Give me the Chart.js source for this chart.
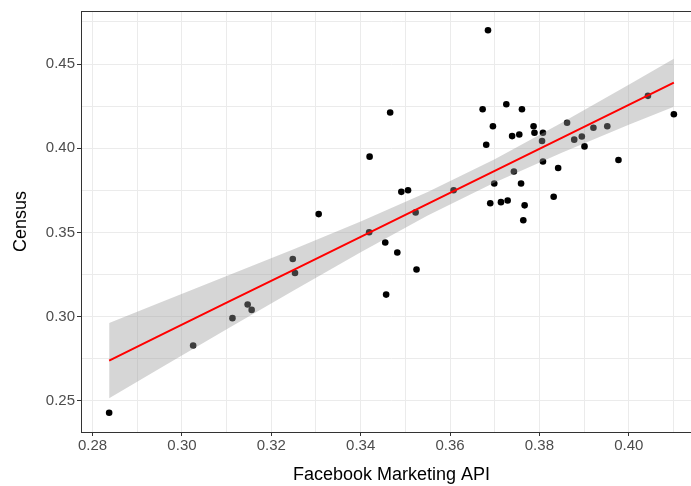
<!DOCTYPE html>
<html>
<head>
<meta charset="utf-8">
<script src="https://cdn.jsdelivr.net/npm/chart.js@4.4.1/dist/chart.umd.min.js"></script>
<style>
  html, body { margin: 0; padding: 0; background: #fff; overflow: hidden; }
</style>
</head>
<body>
<canvas id="grafico" width="706" height="486"></canvas>
<script>
// pontos: Facebook Marketing API (x) vs Census (y)
var fbX = [0.2837, 0.3025, 0.3113, 0.3147, 0.3156, 0.3248, 0.3253, 0.3306, 0.3419, 0.3420,
           0.3455, 0.3457, 0.3466, 0.3482, 0.3491, 0.3506, 0.3523, 0.3525, 0.3608, 0.3673,
           0.3681, 0.3685, 0.3690, 0.3696, 0.3699, 0.3714, 0.3726, 0.3729, 0.3739, 0.3743,
           0.3755, 0.3759, 0.3761, 0.3764, 0.3767, 0.3787, 0.3789, 0.3806, 0.3808, 0.3808,
           0.3832, 0.3842, 0.3862, 0.3878, 0.3895, 0.3901, 0.3921, 0.3952, 0.3977, 0.4043,
           0.4101];
var censusY = [0.2429, 0.2829, 0.2991, 0.3072, 0.3040, 0.3342, 0.3259, 0.3609, 0.3501, 0.3950,
               0.3440, 0.3131, 0.4212, 0.3381, 0.3741, 0.3751, 0.3619, 0.3280, 0.3751, 0.4232,
               0.4021, 0.4701, 0.3673, 0.4131, 0.3791, 0.3680, 0.4261, 0.3690, 0.4072, 0.3862,
               0.4082, 0.3791, 0.4232, 0.3572, 0.3661, 0.4131, 0.4092, 0.4043, 0.3921, 0.4092,
               0.3712, 0.3883, 0.4151, 0.4051, 0.4070, 0.4011, 0.4122, 0.4131, 0.3930, 0.4311,
               0.4202];

// reta ajustada e faixa de confianca
var fitX     = [0.2837, 0.295, 0.31, 0.325, 0.34, 0.355, 0.37, 0.385, 0.40, 0.4101];
var fitY     = [0.2739, 0.2887, 0.3083, 0.3278, 0.3474, 0.3670, 0.3866, 0.4062, 0.4258, 0.4390];
var bandLow  = [0.2516, 0.2692, 0.2925, 0.3156, 0.3383, 0.3600, 0.3797, 0.3973, 0.4139, 0.4247];
var bandHigh = [0.2963, 0.3082, 0.3241, 0.3400, 0.3565, 0.3740, 0.3935, 0.4151, 0.4377, 0.4532];

var xTicks = [0.28, 0.29, 0.30, 0.31, 0.32, 0.33, 0.34, 0.35, 0.36, 0.37, 0.38, 0.39, 0.40, 0.41];
var yTicks = [0.25, 0.275, 0.30, 0.325, 0.35, 0.375, 0.40, 0.425, 0.45, 0.475];

function pares(xs, ys) {
    return xs.map(function (x, i) { return {x: x, y: ys[i]}; });
}
function xMaior(v) { return Math.round(v * 100) % 2 === 0; }
function yMaior(v) { return Math.round(v * 1000) % 50 === 0; }

var bordaPainel = {
    id: 'bordaPainel',
    afterDraw: function (chart) {
        var a = chart.chartArea, ctx = chart.ctx;
        ctx.save();
        ctx.strokeStyle = '#333333';
        ctx.lineWidth = 1;
        ctx.strokeRect(Math.round(a.left) + 0.5, Math.round(a.top) + 0.5,
                       Math.round(a.right - a.left), Math.round(a.bottom - a.top));
        ctx.restore();
    }
};

var fonte = "'Liberation Sans', Arial, sans-serif";

const config = {
    type: 'scatter',
    data: {
        datasets: [
            {
                type: 'line',
                data: pares(fitX, fitY),
                borderColor: '#ff0000',
                borderWidth: 2,
                pointRadius: 0,
                fill: false
            },
            {
                type: 'line',
                data: pares(fitX, bandHigh),
                borderWidth: 0,
                borderColor: 'rgba(0,0,0,0)',
                pointRadius: 0,
                fill: false
            },
            {
                type: 'line',
                data: pares(fitX, bandLow),
                borderWidth: 0,
                borderColor: 'rgba(0,0,0,0)',
                backgroundColor: 'rgba(153,153,153,0.4)',
                pointRadius: 0,
                fill: '-1'
            },
            {
                data: pares(fbX, censusY),
                backgroundColor: '#000000',
                borderWidth: 0,
                pointRadius: 3.3,
                pointHoverRadius: 3.3
            }
        ]
    },
    options: {
        responsive: false,
        animation: false,
        devicePixelRatio: 1,
        layout: { padding: { left: 0, top: 9, right: 4, bottom: 0 } },
        plugins: { legend: { display: false }, tooltip: { enabled: false } },
        scales: {
            x: {
                type: 'linear',
                min: 0.2774,
                max: 0.4164,
                afterBuildTicks: function (s) { s.ticks = xTicks.map(function (v) { return {value: v}; }); },
                afterFit: function (s) { s.height = 54; },
                border: { display: false },
                grid: {
                    color: '#ebebeb',
                    lineWidth: 1,
                    tickLength: 4,
                    tickColor: function (c) { return c.tick && xMaior(c.tick.value) ? '#333333' : 'rgba(0,0,0,0)'; }
                },
                ticks: {
                    autoSkip: false,
                    maxRotation: 0,
                    padding: 1,
                    color: '#4d4d4d',
                    font: { family: fonte, size: 15 },
                    callback: function (v) { return xMaior(v) ? v.toFixed(2) : ''; }
                },
                title: {
                    display: true,
                    text: 'Facebook Marketing API',
                    color: '#000000',
                    font: { family: fonte, size: 18 },
                    padding: { top: 0, bottom: 0 }
                }
            },
            y: {
                type: 'linear',
                min: 0.2315,
                max: 0.4815,
                afterBuildTicks: function (s) { s.ticks = yTicks.map(function (v) { return {value: v}; }); },
                afterFit: function (s) { s.width = 81; },
                border: { display: false },
                grid: {
                    color: '#ebebeb',
                    lineWidth: 1,
                    tickLength: 4,
                    tickColor: function (c) { return c.tick && yMaior(c.tick.value) ? '#333333' : 'rgba(0,0,0,0)'; }
                },
                ticks: {
                    autoSkip: false,
                    padding: 2,
                    color: '#4d4d4d',
                    font: { family: fonte, size: 15 },
                    callback: function (v) { return yMaior(v) ? v.toFixed(2) : ''; }
                },
                title: {
                    display: true,
                    text: 'Census',
                    color: '#000000',
                    font: { family: fonte, size: 18 },
                    padding: 10
                }
            }
        }
    },
    plugins: [bordaPainel]
};

const grafico = new Chart(document.getElementById('grafico'), config);
</script>
</body>
</html>
